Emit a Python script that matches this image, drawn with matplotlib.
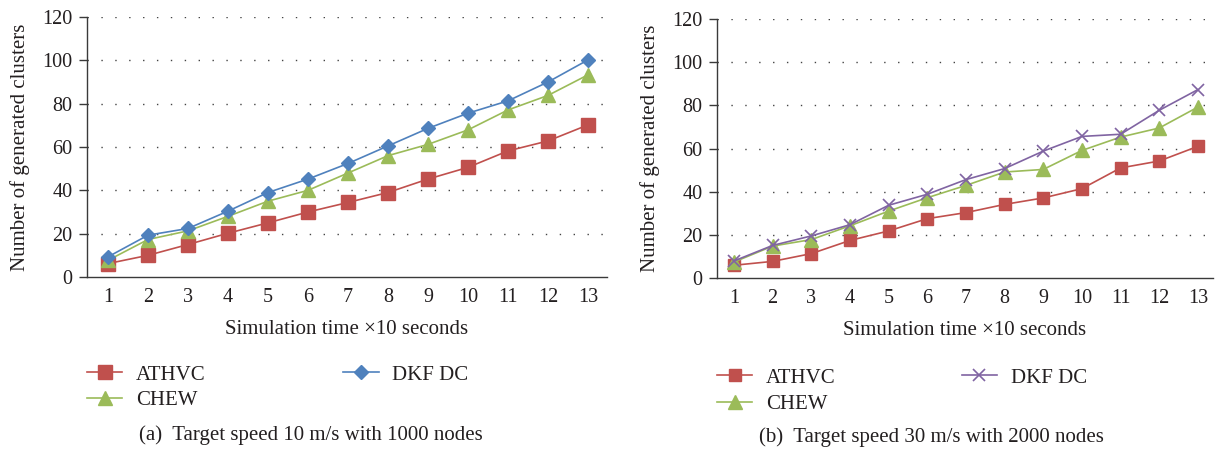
import matplotlib
matplotlib.use("Agg")
import matplotlib.pyplot as plt

plt.rcParams["font.family"] = ["Liberation Serif", "DejaVu Serif"]

time_steps = list(range(1, 14))
series_names = ["ATHVC", "CHEW", "DKF DC"]

# (a) target speed 10 m/s, 1000 nodes
athvc_a = [6.2, 10, 15, 20.2, 25, 30, 34.4, 39, 45.2, 50.6, 58.2, 62.8, 70.2]
chew_a = [7.7, 17.3, 21.3, 28, 35, 40, 48, 56, 61.2, 67.9, 77.1, 83.8, 93.3]
dkf_a = [9.3, 19.3, 22.4, 30.4, 39, 45.2, 52.4, 60.5, 68.6, 75.6, 81.3, 90, 100.2]

# (b) target speed 30 m/s, 2000 nodes
athvc_b = [5.9, 7.7, 11.3, 17.4, 21.8, 27.5, 30.3, 34.1, 37.1, 41.4, 51, 54.2, 61]
chew_b = [7.4, 14.8, 17.8, 24.2, 31, 37.2, 42.9, 49.1, 50.3, 59.1, 65.3, 69.5, 79.2]
dkf_b = [7.9, 15.1, 19.5, 24.7, 33.7, 38.8, 45.6, 50.7, 58.8, 65.6, 66.6, 77.7, 87.3]

y_ticks = [0, 20, 40, 60, 80, 100, 120]
captions = ["(a)  Target speed 10 m/s with 1000 nodes",
            "(b)  Target speed 30 m/s with 2000 nodes"]

RED = "#C0504D"
GREEN = "#9BBB59"
BLUE = "#4F81BD"
PURPLE = "#8064A2"
TEXT = "#231F20"
FS = 15
TICK_FS = 14.5

W, H = 1215, 450
fig = plt.figure(figsize=(W / 100, H / 100), dpi=100)
ax_a = fig.add_axes([87 / W, 1 - 277 / H, 520 / W, 260 / H])
ax_b = fig.add_axes([717 / W, 1 - 278 / H, 496 / W, 259 / H])


def style_axes(ax, xlim):
    ax.set_xlim(*xlim)
    ax.set_ylim(0, 120)
    ax.set_xticks(time_steps)
    ax.set_yticks(y_ticks)
    for side in ("top", "right"):
        ax.spines[side].set_visible(False)
    for side in ("left", "bottom"):
        ax.spines[side].set_color("#3a3a3a")
        ax.spines[side].set_linewidth(1.0)
    ax.tick_params(axis="x", length=0, pad=8, labelsize=TICK_FS, colors=TEXT)
    ax.tick_params(axis="y", length=5.5, width=1, color="#3a3a3a", pad=5,
                   labelsize=TICK_FS, labelcolor=TEXT)
    for y in y_ticks[1:]:
        ax.axhline(y, color="#444444", linestyle=(0, (1, 9)), linewidth=1.0,
                   zorder=0)
    ax.set_ylabel("Number of generated clusters", fontsize=FS, color=TEXT,
                  labelpad=9)
    ax.set_xlabel("Simulation time \u00d710 seconds", fontsize=FS, color=TEXT,
                  labelpad=9)


# left panel
ax_a.plot(time_steps, athvc_a, color=RED, marker="s", markersize=9.5, lw=1.2,
          label=series_names[0])
ax_a.plot(time_steps, chew_a, color=GREEN, marker="^", markersize=10.5, lw=1.2,
          label=series_names[1])
ax_a.plot(time_steps, dkf_a, color=BLUE, marker="D", markersize=7, lw=1.2,
          label=series_names[2])
style_axes(ax_a, (0.475, 13.475))
ax_a.legend(loc="upper left", bbox_to_anchor=(87 / W, 1 - 365 / H),
            bbox_transform=fig.transFigure, ncol=2, frameon=False,
            fontsize=FS, handlelength=1.7, handletextpad=0.65,
            columnspacing=6.6, labelspacing=0.3, borderaxespad=0,
            borderpad=0, labelcolor=TEXT)

# right panel
ax_b.plot(time_steps, athvc_b, color=RED, marker="s", markersize=8.3, lw=1.2,
          label=series_names[0])
ax_b.plot(time_steps, chew_b, color=GREEN, marker="^", markersize=9.5, lw=1.2,
          label=series_names[1])
ax_b.plot(time_steps, dkf_b, color=PURPLE, marker="x", markersize=8.5, lw=1.2,
          mew=1.2, label=series_names[2])
style_axes(ax_b, (0.56, 13.39))
ax_b.legend(loc="upper left", bbox_to_anchor=(717 / W, 1 - 368 / H),
            bbox_transform=fig.transFigure, ncol=2, frameon=False,
            fontsize=FS, handlelength=1.7, handletextpad=0.65,
            columnspacing=6.05, labelspacing=0.35, borderaxespad=0,
            borderpad=0, labelcolor=TEXT)

fig.text(311 / W, 1 - 435 / H, captions[0], ha="center", va="center",
         fontsize=FS, color=TEXT)
fig.text(931 / W, 1 - 437 / H, captions[1], ha="center", va="center",
         fontsize=FS, color=TEXT)

fig.savefig("out.png", dpi=100)
